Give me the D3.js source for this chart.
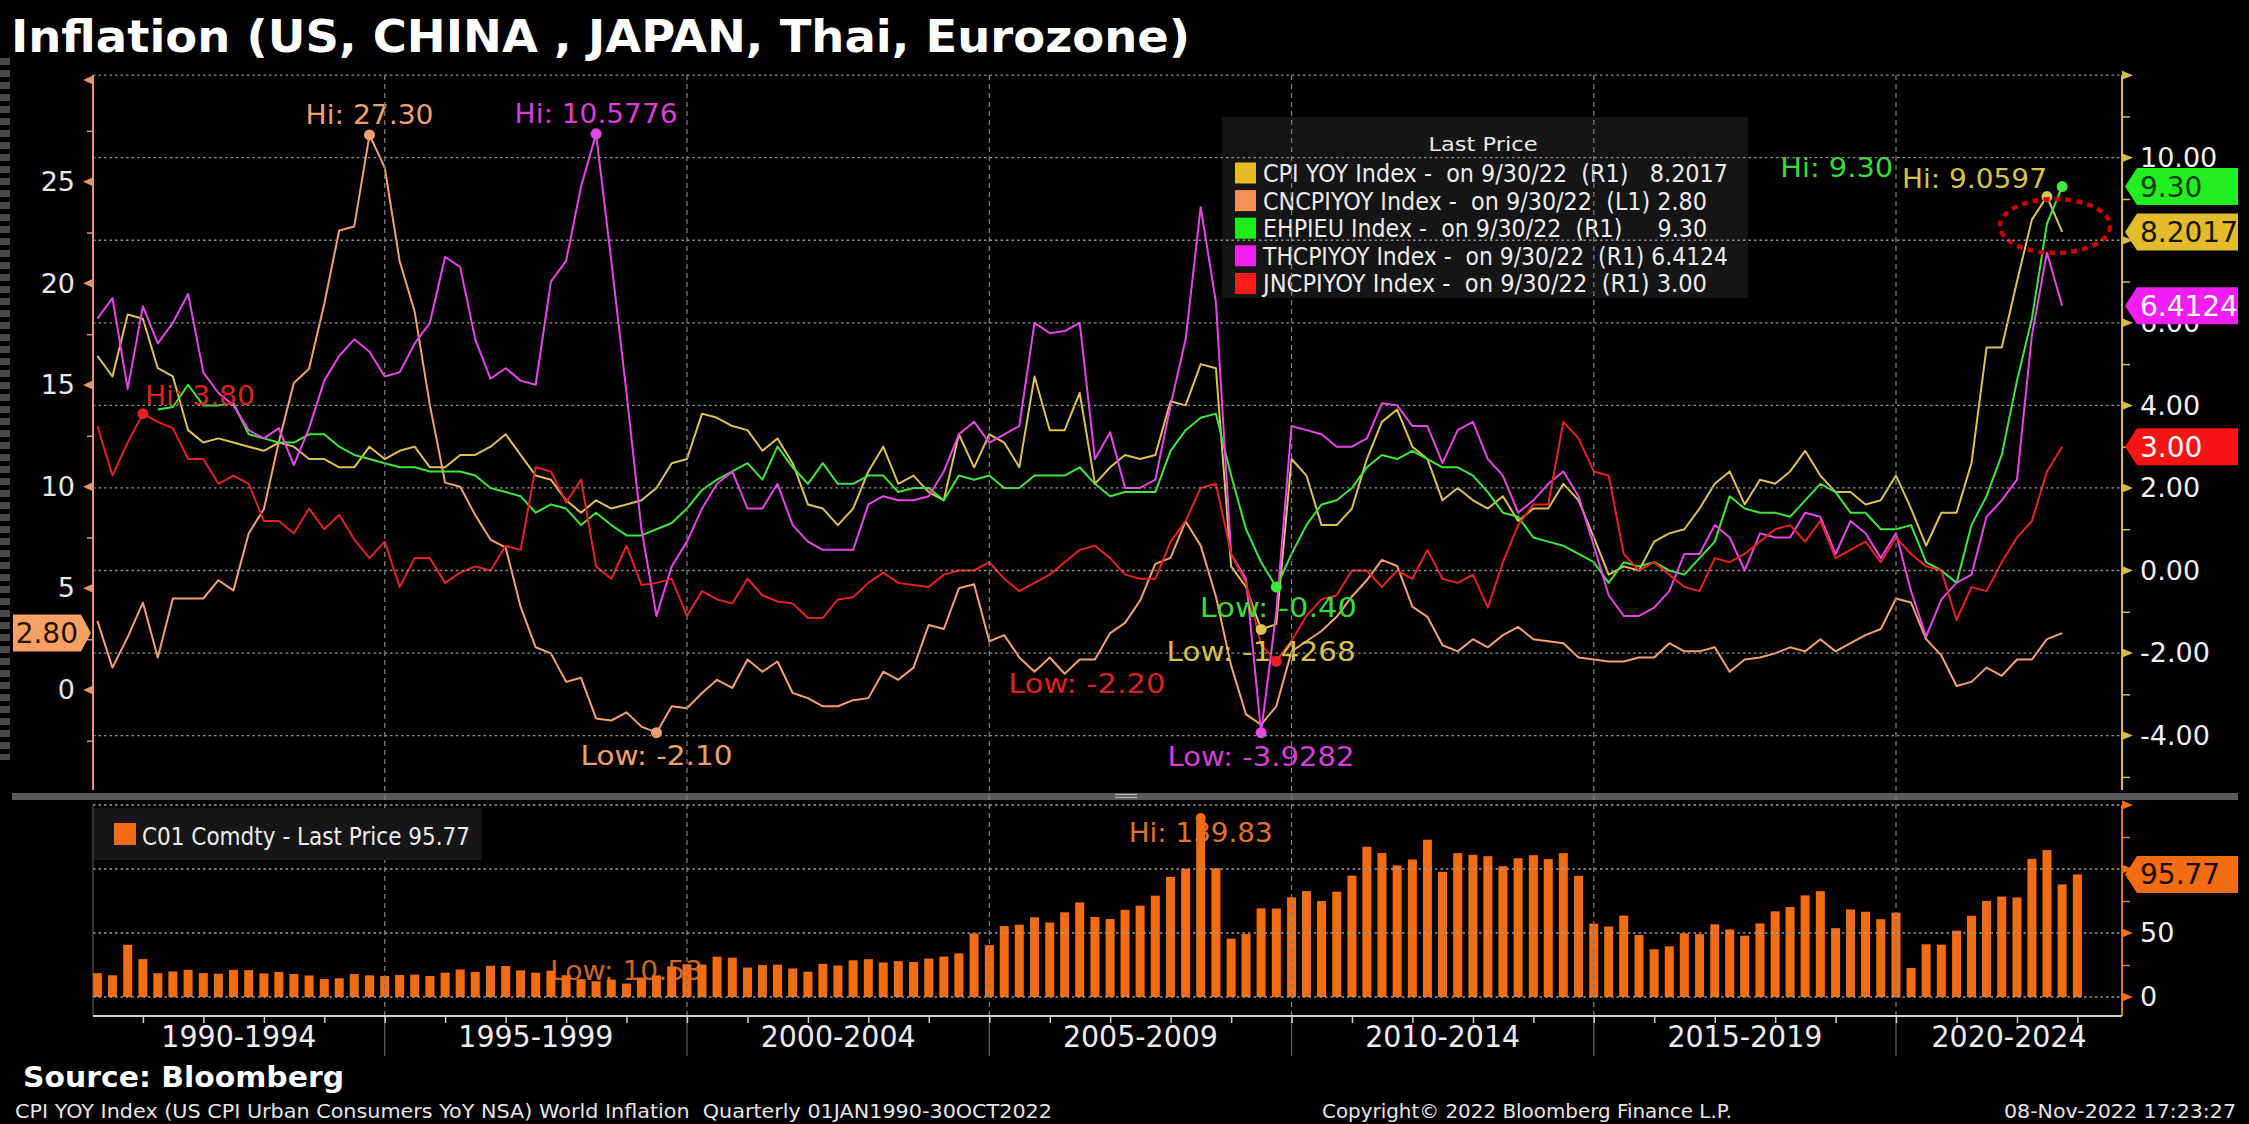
<!DOCTYPE html>
<html>
<head>
<meta charset="utf-8">
<script src="https://cdn.jsdelivr.net/npm/d3@7"></script>
<style>
  html, body { margin: 0; padding: 0; background: #000; }
  svg { display: block; }
  text { font-family: "DejaVu Sans", sans-serif; }
</style>
</head>
<body>
<svg id="chart" width="2249" height="1124"></svg>
<script>
// Quarterly YoY CPI, Q1 1990 .. Q3 2022 (131 quarters)
const usCpi = [
  5.2, 4.7, 6.2, 6.1,  4.9, 4.7, 3.4, 3.1,  3.2, 3.1, 3.0, 2.9,  3.1, 3.0, 2.7, 2.7,
  2.5, 2.5, 3.0, 2.7,  2.9, 3.0, 2.5, 2.5,  2.8, 2.8, 3.0, 3.3,  2.8, 2.3, 2.2, 1.7,
  1.4, 1.7, 1.5, 1.6,  1.7, 2.0, 2.6, 2.7,  3.8, 3.7, 3.5, 3.4,  2.9, 3.2, 2.6, 1.6,
  1.5, 1.1, 1.5, 2.4,  3.0, 2.1, 2.3, 1.9,  1.7, 3.3, 2.5, 3.3,  3.1, 2.5, 4.7, 3.4,
  3.4, 4.3, 2.1, 2.5,  2.8, 2.7, 2.8, 4.1,  4.0, 5.0, 4.9, 0.1,  -0.4, -1.4268, -1.3, 2.7,
  2.3, 1.1, 1.1, 1.5,  2.7, 3.6, 3.9, 3.0,  2.7, 1.7, 2.0, 1.7,  1.5, 1.8, 1.2, 1.5,
  1.5, 2.1, 1.7, 0.8,  -0.1, 0.1, 0.0, 0.7,  0.9, 1.0, 1.5, 2.1,  2.4, 1.6, 2.2, 2.1,
  2.4, 2.9, 2.3, 1.9,  1.9, 1.6, 1.7, 2.3,  1.5, 0.6, 1.4, 1.4,  2.6, 5.4, 5.4, 7.0,
  8.5, 9.0597, 8.2017
];
const cnCpi = [
  3.4, 1.1, 2.6, 4.3,  1.6, 4.5, 4.5, 4.5,  5.4, 4.9, 7.7, 8.9,  12.2, 15.1, 15.8, 19.0,
  22.6, 22.8, 27.3, 25.7,  21.1, 18.6, 14.0, 10.2,  10.0, 8.6, 7.4, 7.0,  4.1, 2.1, 1.8, 0.4,
  0.6, -1.4, -1.5, -1.1,  -1.8, -2.1, -0.8, -0.9,  -0.15, 0.5, 0.1, 1.5,  0.9, 1.4, -0.15, -0.4,
  -0.8, -0.8, -0.5, -0.4,  0.9, 0.5, 1.1, 3.2,  3.0, 5.0, 5.2, 2.4,  2.7, 1.6, 0.9, 1.6,
  0.8, 1.5, 1.5, 2.8,  3.3, 4.4, 6.2, 6.5,  8.3, 7.1, 4.6, 1.2,  -1.2, -1.7, -0.8, 1.9,
  2.4, 2.9, 3.6, 4.6,  5.4, 6.4, 6.1, 4.1,  3.6, 2.2, 1.9, 2.5,  2.1, 2.7, 3.1, 2.5,
  2.4, 2.3, 1.6, 1.5,  1.4, 1.4, 1.6, 1.6,  2.3, 1.9, 1.9, 2.1,  0.9, 1.5, 1.6, 1.8,
  2.1, 1.9, 2.5, 1.9,  2.3, 2.7, 3.0, 4.5,  4.3, 2.5, 1.7, 0.2,  0.4, 1.1, 0.7, 1.5,
  1.5, 2.5, 2.8
];
const euCpi = [
  null, null, null, null,  3.9, 3.96, 4.5, 4.0,  4.0, 4.05, 3.3, 3.2,  3.1, 3.1, 3.3, 3.3,
  3.0, 2.8, 2.7, 2.6,  2.5, 2.5, 2.4, 2.4,  2.4, 2.3, 2.0, 1.9,  1.8, 1.4, 1.6, 1.5,
  1.1, 1.4, 1.1, 0.85,  0.85, 1.0, 1.15, 1.5,  1.95, 2.2, 2.4, 2.6,  2.2, 3.0, 2.5, 2.1,
  2.6, 2.1, 2.1, 2.3,  2.3, 1.9, 2.0, 2.0,  1.7, 2.3, 2.2, 2.3,  2.0, 2.0, 2.3, 2.3,
  2.3, 2.5, 2.1, 1.8,  1.9, 1.9, 1.9, 2.9,  3.4, 3.7, 3.8, 2.3,  1.0, 0.2, -0.4, 0.4,
  1.1, 1.6, 1.7, 2.0,  2.5, 2.8, 2.7, 2.9,  2.7, 2.5, 2.5, 2.3,  1.9, 1.4, 1.3, 0.8,
  0.7, 0.6, 0.4, 0.2,  -0.3, 0.2, 0.1, 0.2,  0.0, -0.1, 0.3, 0.7,  1.8, 1.5, 1.4, 1.4,
  1.3, 1.7, 2.1, 1.9,  1.4, 1.4, 1.0, 1.0,  1.1, 0.2, 0.0, -0.3,  1.1, 1.8, 2.8, 4.6,
  6.1, 8.4, 9.3
];
const thCpi = [
  6.1, 6.6, 4.4, 6.4,  5.5, 6.0, 6.7, 4.8,  4.3, 4.0, 3.4, 3.2,  3.45, 2.55, 3.45, 4.6,
  5.2, 5.6, 5.3, 4.7,  4.8, 5.5, 6.0, 7.6,  7.35, 5.6, 4.65, 4.9,  4.6, 4.5, 7.0, 7.5,
  9.3, 10.5776, 7.5, 4.3,  1.0, -1.1, 0.1, 0.7,  1.5, 2.1, 2.4, 1.5,  1.5, 2.1, 1.1, 0.7,
  0.5, 0.5, 0.5, 1.6,  1.8, 1.7, 1.7, 1.8,  2.4, 3.3, 3.6, 3.1,  3.3, 3.5, 6.0, 5.75,
  5.8, 6.0, 2.7, 3.35,  2.0, 2.0, 2.2, 4.0,  5.6, 8.8, 6.5, 0.4,  -0.2, -3.9282, -1.0, 3.5,
  3.4, 3.3, 3.0, 3.0,  3.2, 4.05, 4.0, 3.5,  3.5, 2.6, 3.4, 3.6,  2.7, 2.3, 1.4, 1.7,
  2.1, 2.4, 1.8, 0.6,  -0.6, -1.1, -1.1, -0.9,  -0.5, 0.4, 0.4, 1.1,  0.8, 0.0, 0.9, 0.8,
  0.8, 1.4, 1.3, 0.4,  1.2, 0.9, 0.3, 0.9,  -0.5, -1.6, -0.7, -0.3,  -0.1, 1.3, 1.7, 2.2,
  5.7, 7.7, 6.4124
];
const jpCpi = [
  3.5, 2.3, 3.1, 3.8,  3.6, 3.45, 2.7, 2.7,  2.1, 2.3, 2.1, 1.2,  1.2, 0.9, 1.5, 1.0,
  1.35, 0.75, 0.3, 0.7,  -0.4, 0.3, 0.3, -0.3,  -0.05, 0.1, 0.0, 0.6,  0.5, 2.5, 2.4, 1.65,
  2.2, 0.1, -0.2, 0.6,  -0.35, -0.3, -0.2, -1.1,  -0.5, -0.7, -0.8, -0.2,  -0.6, -0.75, -0.8, -1.15,
  -1.15, -0.7, -0.65, -0.3,  -0.05, -0.3, -0.35, -0.4,  -0.1, 0.0, 0.0, 0.2,  -0.2, -0.5, -0.3, -0.1,
  0.2, 0.5, 0.6, 0.3,  -0.1, -0.2, -0.2, 0.7,  1.2, 2.0, 2.1, 0.4,  -0.3, -1.8, -2.2, -1.7,
  -1.1, -0.7, -0.6, 0.0,  0.0, -0.4, 0.0, -0.2,  0.5, -0.2, -0.3, -0.1,  -0.9, 0.2, 1.1, 1.6,
  1.6, 3.6, 3.2, 2.4,  2.3, 0.4, 0.0, 0.2,  -0.1, -0.4, -0.5, 0.3,  0.2, 0.4, 0.7, 1.0,
  1.1, 0.7, 1.2, 0.3,  0.5, 0.7, 0.2, 0.8,  0.4, 0.1, 0.0, -1.2,  -0.4, -0.5, 0.2, 0.8,
  1.2, 2.4, 3.0
];
// Brent front month, quarter end, Q1 1990 .. Q4 2022 (132 quarters)
const brent = [
  18.6, 17.0, 40.8, 29.6,  18.6, 19.9, 21.2, 18.6,  18.2, 21.2, 21.0, 18.4,  19.6, 18.0, 16.8, 14.0,
  14.6, 17.9, 16.9, 16.4,  17.2, 17.5, 16.4, 19.0,  21.5, 19.6, 24.4, 24.2,  20.8, 19.0, 20.6, 17.0,
  13.9, 12.3, 13.5, 10.53,  15.2, 16.9, 23.9, 25.6,  25.4, 31.5, 30.7, 23.0,  25.0, 25.3, 22.3, 19.8,
  25.9, 24.6, 28.7, 29.6,  27.0, 28.0, 27.3, 30.1,  31.6, 34.1, 49.6, 40.5,  55.4, 56.5, 62.3, 58.2,
  66.2, 73.9, 62.5, 60.9,  68.1, 71.4, 79.2, 93.9,  100.3, 139.83, 100.6, 45.6,  49.2, 69.3, 69.1, 77.9,
  82.7, 75.0, 82.3, 94.8,  117.4, 112.5, 102.8, 107.4,  122.9, 97.8, 112.4, 111.1,  110.0, 102.2, 108.4, 110.8,
  107.8, 112.4, 94.7, 57.3,  55.1, 63.6, 48.4, 37.3,  39.6, 49.7, 49.1, 56.8,  52.8, 47.9, 57.5, 66.9,
  70.3, 79.4, 82.7, 53.8,  68.4, 66.6, 60.8, 66.0,  22.7, 41.2, 40.9, 51.8,  63.5, 75.1, 78.5, 77.8,
  107.9, 114.8, 88.0, 95.77
];

const periodLabels = ['1990-1994', '1995-1999', '2000-2004', '2005-2009', '2010-2014', '2015-2019', '2020-2024'];
const leftTicks = d3.range(-2.5, 30.1, 2.5);
const rightTicks = d3.range(-5, 12.1, 1);
const brentTicks = d3.range(0, 150.1, 25);
const legendRows = [
  'CPI YOY Index -  on 9/30/22  (R1)   8.2017',
  'CNCPIYOY Index -  on 9/30/22  (L1) 2.80',
  'EHPIEU Index -  on 9/30/22  (R1)     9.30',
  'THCPIYOY Index -  on 9/30/22  (R1) 6.4124',
  'JNCPIYOY Index -  on 9/30/22  (R1) 3.00'
];

// layout
const X0 = 93, X1 = 2122;
const TOP = 75, MID = 790;
const LTOP = 805, LBOT = 1016;
const TAG_R = 2238;

// plain hyphen for negatives, like the terminal does
const fmt = d3.formatLocale({ decimal: '.', thousands: ',', grouping: [3], currency: ['$', ''], minus: '-' }).format;

const svg = d3.select('#chart');
svg.append('rect').attr('width', 2249).attr('height', 1124).attr('fill', '#000');

const x = d3.scaleTime().domain([new Date(1990, 0, 1), new Date(2023, 0, 1)]).range([82.5, 2077.4]);
const yL = d3.scaleLinear().domain([0, 25]).range([690, 181.7]);
const yR = d3.scaleLinear().domain([0, 10]).range([570.5, 157.7]);
const yB = d3.scaleLinear().domain([0, 150]).range([997, 805]);
const qDate = i => d3.timeMonth.offset(new Date(1990, 0, 1), 3 * (i + 1));

function fit(sel, w) {
  return sel.attr('textLength', w).attr('lengthAdjust', 'spacingAndGlyphs');
}

const series = [
  { key: 'us', values: usCpi, y: yR, line: '#dcc256', label: '#d8c04e', swatch: '#e6bc22', tagText: '#1c1400', fmt: '.4f',
    hi: { anchor: 'end', dx: 0, dy: -9, w: 145 }, lo: { anchor: 'middle', dx: 0, dy: 32, w: 189 } },
  { key: 'cn', values: cnCpi, y: yL, line: '#f5a070', label: '#f0a070', swatch: '#f7905a', tagText: '#2a1200', fmt: '.2f',
    hi: { anchor: 'middle', dx: 0, dy: -11, w: 128 }, lo: { anchor: 'middle', dx: 0, dy: 32, w: 152 } },
  { key: 'eu', values: euCpi, y: yR, line: '#3ee63e', label: '#38dc38', swatch: '#19f019', tagText: '#0d3d0d', fmt: '.2f',
    hi: { anchor: 'end', dx: -169, dy: -10, w: 113 }, lo: { anchor: 'middle', dx: 2, dy: 30, w: 157 } },
  { key: 'th', values: thCpi, y: yR, line: '#e845e8', label: '#d63ed6', swatch: '#f51ef5', tagText: '#ffffff', fmt: '.4f',
    hi: { anchor: 'middle', dx: 0, dy: -11, w: 163 }, lo: { anchor: 'middle', dx: 0, dy: 33, w: 187 } },
  { key: 'jp', values: jpCpi, y: yR, line: '#e42222', label: '#dc2020', swatch: '#ff1a1a', tagText: '#ffffff', fmt: '.2f',
    hi: { anchor: 'start', dx: 2, dy: -9, w: 110 }, lo: { anchor: 'end', dx: -111, dy: 32, w: 157 } }
];

// last-value tag positions, used to drop axis labels that sit fully under a tag
const last = a => a[a.length - 1];
const rightTagYs = series.filter(s => s.y === yR).map(s => yR(last(s.values)));
const brentTagY = yB(last(brent));
const underTag = (yy, tagYs) => tagYs.some(t => Math.abs(t - yy) < 10);

// screenshot edge on the far left
svg.append('line').attr('x1', 5).attr('x2', 5).attr('y1', 58).attr('y2', 760)
  .attr('stroke', '#cfcfcf').attr('stroke-width', 10).attr('stroke-opacity', 0.35)
  .attr('stroke-dasharray', '7,5');

// --- grid ---------------------------------------------------------------
const grid = svg.append('g').attr('stroke', '#8f8f8f').attr('stroke-width', 1.3);
grid.selectAll('line.hu')
  .data(d3.range(-4, 12.1, 2))
  .join('line')
  .attr('x1', X0).attr('x2', X1)
  .attr('y1', d => yR(d)).attr('y2', d => yR(d))
  .attr('stroke-dasharray', '2.5,3');

const majorYears = d3.range(1995, 2021, 5).map(y => new Date(y, 0, 1));
grid.selectAll('line.v')
  .data(majorYears)
  .join('line')
  .attr('x1', d => x(d)).attr('x2', d => x(d))
  .attr('y1', TOP).attr('y2', LBOT)
  .attr('stroke', '#7a7a7a')
  .attr('stroke-dasharray', '5,4');
grid.selectAll('line.vb')
  .data(majorYears)
  .join('line')
  .attr('x1', d => x(d)).attr('x2', d => x(d))
  .attr('y1', LBOT).attr('y2', 1056)
  .attr('stroke', '#5c5c5c');

// --- upper axes ---------------------------------------------------------
const axL = svg.append('g')
  .attr('transform', `translate(${X0},0)`)
  .call(d3.axisLeft(yL).tickValues(leftTicks).tickSize(6).tickPadding(12)
    .tickFormat(d => (d % 5 === 0 && d >= 0 && d < 30) ? d : ''));
axL.select('.domain').remove();
axL.selectAll('line').attr('stroke', '#e8946a').attr('stroke-width', 1.5);
axL.selectAll('text').attr('fill', '#e6e6e6').attr('font-size', 27).attr('font-family', 'DejaVu Sans');
axL.append('line').attr('y1', TOP).attr('y2', MID).attr('stroke', '#e8946a').attr('stroke-width', 2);
axL.selectAll('path.tri')
  .data(leftTicks.filter(d => d % 5 === 0 && d >= 0))
  .join('path')
  .attr('class', 'tri')
  .attr('d', d => `M0,${yL(d) - 4.5}L-10,${yL(d)}L0,${yL(d) + 4.5}Z`)
  .attr('fill', '#e8946a');

const axR = svg.append('g')
  .attr('transform', `translate(${X1},0)`)
  .call(d3.axisRight(yR).tickValues(rightTicks).tickSize(8).tickPadding(10)
    .tickFormat(d => (d % 2 === 0 && d < 12 && !underTag(yR(d), rightTagYs)) ? fmt('.2f')(d) : ''));
axR.select('.domain').remove();
axR.selectAll('line').attr('stroke', '#d8b850').attr('stroke-width', 1.5);
axR.selectAll('text').attr('fill', '#f0f0f0').attr('font-size', 27).attr('font-family', 'DejaVu Sans');
axR.append('line').attr('y1', TOP).attr('y2', MID).attr('stroke', '#d8b850').attr('stroke-width', 2);
axR.selectAll('path.tri')
  .data(rightTicks.filter(d => d % 2 === 0))
  .join('path')
  .attr('class', 'tri')
  .attr('d', d => `M0,${yR(d) - 4.5}L11,${yR(d)}L0,${yR(d) + 4.5}Z`)
  .attr('fill', '#d8b850');

// --- upper lines --------------------------------------------------------
const linesG = svg.append('g').attr('fill', 'none').attr('stroke-width', 2).attr('stroke-linejoin', 'round');
series.forEach(s => {
  const line = d3.line()
    .defined(d => d != null)
    .x((d, i) => x(qDate(i)))
    .y(d => s.y(d));
  linesG.append('path')
    .attr('d', line(s.values))
    .attr('stroke', s.line);
});

// Hi / Low markers and labels
const marks = svg.append('g');
series.forEach(s => {
  [['hi', d3.maxIndex(s.values), 'Hi: '], ['lo', d3.minIndex(s.values), 'Low: ']].forEach(([k, i, pre]) => {
    const px = x(qDate(i)), py = s.y(s.values[i]);
    const cfg = s[k];
    marks.append('circle').attr('cx', px).attr('cy', py).attr('r', 5.5).attr('fill', s.line);
    fit(marks.append('text')
      .attr('x', px + cfg.dx).attr('y', py + cfg.dy)
      .attr('text-anchor', cfg.anchor)
      .attr('font-size', 27)
      .attr('fill', s.label)
      .text(pre + fmt(s.fmt)(s.values[i])), cfg.w);
  });
});

// --- legend (upper) -----------------------------------------------------
const leg = svg.append('g');
leg.append('rect').attr('x', 1222).attr('y', 117).attr('width', 526).attr('height', 181)
  .attr('fill', '#181818').attr('fill-opacity', 0.88);
fit(leg.append('text').attr('x', 1483).attr('y', 151).attr('text-anchor', 'middle')
  .attr('font-size', 20).attr('fill', '#e8e8e8').text('Last Price'), 109);
const rowW = [465, 444, 444, 465, 444];
series.forEach((s, k) => {
  const cy = 173 + k * 27.6;
  leg.append('rect').attr('x', 1235).attr('y', cy - 10.5).attr('width', 21).attr('height', 21).attr('fill', s.swatch);
  fit(leg.append('text').attr('x', 1263).attr('y', cy + 9)
    .attr('font-size', 24).attr('fill', '#ececec').style('white-space', 'pre')
    .text(legendRows[k]), rowW[k]);
});

// dotted red ellipse annotation
svg.append('ellipse').attr('cx', 2055).attr('cy', 226).attr('rx', 55).attr('ry', 27)
  .attr('fill', 'none').attr('stroke', '#cc0000').attr('stroke-width', 4.5).attr('stroke-dasharray', '6,5');

// --- value tags ---------------------------------------------------------
function rightTag(g, y, fill, txt, color) {
  g.append('path')
    .attr('d', `M${X1 + 3},${y}L${X1 + 15},${y - 18.5}H${TAG_R}V${y + 18.5}H${X1 + 15}Z`)
    .attr('fill', fill);
  g.append('text').attr('x', 2140).attr('y', y + 10).attr('font-size', 28).attr('fill', color).text(txt);
}
const tags = svg.append('g');
const tagColors = { us: '#e3bc2c', eu: '#22ee22', th: '#f01ef0', jp: '#f51515' };
series.filter(s => s.y === yR).forEach(s => {
  const v = last(s.values);
  rightTag(tags, s.y(v), tagColors[s.key], fmt(s.fmt)(v), s.tagText);
});
{
  const cn = series.find(s => s.key === 'cn');
  const v = last(cn.values);
  const y = yL(v);
  tags.append('path')
    .attr('d', `M13,${y - 18.5}H81L91,${y}L81,${y + 18.5}H13Z`)
    .attr('fill', '#f7a066');
  tags.append('text').attr('x', 78).attr('y', y + 10).attr('text-anchor', 'end')
    .attr('font-size', 28).attr('fill', cn.tagText).text(fmt('.2f')(v));
}

// --- separator ----------------------------------------------------------
svg.append('rect').attr('x', 12).attr('y', 793).attr('width', TAG_R - 12).attr('height', 7).attr('fill', '#5a5a5a');
svg.selectAll('line.handle').data([794.5, 797.5]).join('line')
  .attr('x1', 1115).attr('x2', 1137).attr('y1', d => d).attr('y2', d => d)
  .attr('stroke', '#b4b4b4').attr('stroke-width', 1.2);

// --- lower panel --------------------------------------------------------
const brentG = svg.append('g');
const hiB = d3.maxIndex(brent), loB = d3.minIndex(brent);
[[hiB, 'Hi: ', 24, 144, '#e0702e'], [loB, 'Low: ', -4, 153, '#c8662c']].forEach(([i, pre, dy, w, c]) => {
  fit(brentG.append('text')
    .attr('x', x(qDate(i))).attr('y', yB(brent[i]) + dy)
    .attr('text-anchor', 'middle').attr('font-size', 27).attr('fill', c)
    .text(pre + fmt('.2f')(brent[i])), w);
});
brentG.selectAll('rect.bar')
  .data(brent)
  .join('rect')
  .attr('class', 'bar')
  .attr('x', (d, i) => x(qDate(i)) - 4.5)
  .attr('width', 9)
  .attr('y', d => yB(d))
  .attr('height', d => yB(0) - yB(d))
  .attr('fill', '#f26c14');
brentG.append('circle').attr('cx', x(qDate(hiB))).attr('cy', yB(brent[hiB])).attr('r', 5).attr('fill', '#f26c14');

grid.raise();
svg.append('g').attr('stroke', '#9a9a9a').attr('stroke-width', 1.3).attr('stroke-dasharray', '2.5,3')
  .selectAll('line')
  .data([0, 50, 100, 150])
  .join('line')
  .attr('x1', X0).attr('x2', X1)
  .attr('y1', d => yB(d)).attr('y2', d => yB(d));

// lower axes
svg.append('line').attr('x1', X0).attr('x2', X0).attr('y1', LTOP).attr('y2', LBOT).attr('stroke', '#666').attr('stroke-width', 1);
const axB = svg.append('g')
  .attr('transform', `translate(${X1},0)`)
  .call(d3.axisRight(yB).tickValues(brentTicks).tickSize(8).tickPadding(10)
    .tickFormat(d => (d % 50 === 0 && d < 150 && !underTag(yB(d), [brentTagY])) ? d : ''));
axB.select('.domain').remove();
axB.selectAll('line').attr('stroke', '#f07020').attr('stroke-width', 1.5);
axB.selectAll('text').attr('fill', '#f0f0f0').attr('font-size', 27).attr('font-family', 'DejaVu Sans');
axB.append('line').attr('y1', LTOP).attr('y2', LBOT).attr('stroke', '#f07020').attr('stroke-width', 2);
axB.selectAll('path.tri')
  .data(brentTicks.filter(d => d % 50 === 0))
  .join('path')
  .attr('d', d => `M0,${yB(d) - 4.5}L11,${yB(d)}L0,${yB(d) + 4.5}Z`)
  .attr('fill', '#f07020');

const legB = svg.append('g');
legB.append('rect').attr('x', 94).attr('y', 808).attr('width', 388).attr('height', 52).attr('fill', '#161616');
legB.append('rect').attr('x', 114).attr('y', 823).attr('width', 22).attr('height', 22).attr('fill', '#f26c14');
fit(legB.append('text').attr('x', 142).attr('y', 845).attr('font-size', 25).attr('fill', '#ececec')
  .text('C01 Comdty - Last Price ' + fmt('.2f')(last(brent))), 328);

svg.append('path')
  .attr('d', `M${X1 + 3},${brentTagY}L${X1 + 15},${brentTagY - 18.5}H${TAG_R}V${brentTagY + 18.5}H${X1 + 15}Z`)
  .attr('fill', '#f26c14');
svg.append('text').attr('x', 2140).attr('y', brentTagY + 10).attr('font-size', 28).attr('fill', '#1a0a00')
  .text(fmt('.2f')(last(brent)));

// x axis
const yearTicks = d3.range(1991, 2024).map(y => new Date(y, 0, 1));
const axX = svg.append('g')
  .attr('transform', `translate(0,${LBOT})`)
  .call(d3.axisBottom(x).tickValues(yearTicks).tickSize(7).tickFormat(''));
axX.select('.domain').remove();
axX.selectAll('line').attr('stroke', '#cfcfcf').attr('stroke-width', 1.5);
axX.append('line').attr('x1', X0).attr('x2', X1).attr('stroke', '#d0d0d0').attr('stroke-width', 2);

svg.append('g').selectAll('text')
  .data(periodLabels)
  .join('text')
  .attr('x', (d, k) => {
    const a = Math.max(x(new Date(1990 + 5 * k, 0, 1)), X0);
    const b = Math.min(x(new Date(1995 + 5 * k, 0, 1)), X1);
    return (a + b) / 2;
  })
  .attr('y', 1047)
  .attr('text-anchor', 'middle')
  .attr('font-size', 30)
  .attr('fill', '#ececec')
  .text(d => d)
  .call(sel => fit(sel, 155));

// --- titles and footer --------------------------------------------------
fit(svg.append('text').attr('x', 11).attr('y', 52).attr('font-size', 44).attr('font-weight', 'bold')
  .attr('fill', '#fff').text('Inflation (US, CHINA , JAPAN, Thai, Eurozone)'), 1179);
fit(svg.append('text').attr('x', 23).attr('y', 1087).attr('font-size', 28).attr('font-weight', 'bold')
  .attr('fill', '#fff').text('Source: Bloomberg'), 321);
fit(svg.append('text').attr('x', 15).attr('y', 1118).attr('font-size', 20).attr('fill', '#e6e6e6')
  .style('white-space', 'pre')
  .text('CPI YOY Index (US CPI Urban Consumers YoY NSA) World Inflation  Quarterly 01JAN1990-30OCT2022'), 1037);
fit(svg.append('text').attr('x', 1322).attr('y', 1118).attr('font-size', 20).attr('fill', '#e6e6e6')
  .text('Copyright\u00a9 2022 Bloomberg Finance L.P.'), 410);
fit(svg.append('text').attr('x', 2236).attr('y', 1118).attr('text-anchor', 'end').attr('font-size', 20)
  .attr('fill', '#e6e6e6').text('08-Nov-2022 17:23:27'), 232);
</script>
</body>
</html>
